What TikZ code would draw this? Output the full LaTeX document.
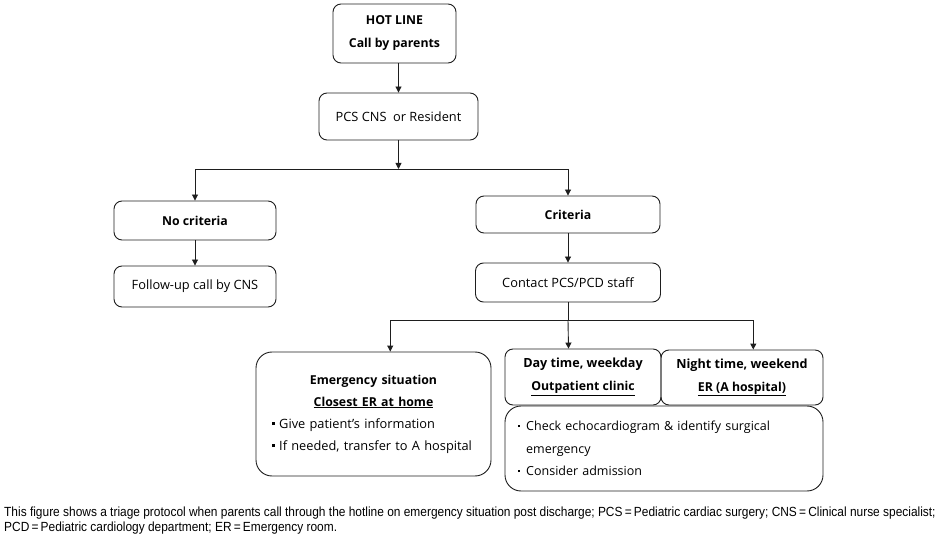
\documentclass[tikz,border=0pt]{standalone}
\usepackage{fontspec}
\setmainfont{Open Sans}
\newfontfamily\capfont[FakeStretch=0.9]{Liberation Sans}
\usetikzlibrary{arrows.meta}
\definecolor{ink}{HTML}{1E1E1E}
\newcommand{\sqbul}{\rule[3pt]{3.2pt}{3.2pt}\hspace{4pt}}
\newcommand{\dotbul}{\rule[3.5pt]{2.2pt}{2.2pt}\hspace{6pt}}

\begin{document}
\begin{tikzpicture}[x=1pt, y=-1pt, >={Triangle[length=6pt,width=6pt]},
    box/.style={draw=ink, line width=0.9pt, rounded corners=8pt, inner sep=0pt, align=center,
      font=\fontsize{12.8}{22}\selectfont},
    bigbox/.style={box, rounded corners=16pt},
    hdbox/.style={box, font=\bfseries\fontsize{12.3}{23}\selectfont},
    flow/.style={->, ink, line width=0.9pt}]
  \useasboundingbox (0,0) rectangle (943,540);
  % top of the tree
  \node[hdbox, minimum width=123pt, minimum height=59pt] (hot) at (394.5,33.5) {HOT LINE\\Call by parents};
  \node[box, minimum width=159pt, minimum height=47pt] (pcs) at (398.5,116.5) {PCS CNS\ \ or Resident};
  \coordinate (split1) at (398.5,169);
  \node[hdbox, minimum width=162pt, minimum height=39pt] (nocrit) at (195,220.5) {No criteria};
  \node[box, minimum width=162pt, minimum height=41pt] (follow) at (195,286.5) {Follow-up\ call\ by\ CNS};
  \node[hdbox, minimum width=184pt, minimum height=37pt] (crit) at (568,214.5) {Criteria};
  \node[box, minimum width=185pt, minimum height=39pt] (contact) at (568,282.5) {Contact PCS/PCD staff};
  \coordinate (split2) at (568,320);
  % bottom row
  \node[bigbox, minimum width=235pt, minimum height=124pt, text width=203pt, align=left] (emerg) at (373.5,414)
    {\makebox[203pt]{\bfseries\fontsize{12.3}{22}\selectfont Emergency situation}\\
     \makebox[203pt]{\bfseries\fontsize{12.3}{22}\selectfont\underline{Closest ER at home}}\\
     \sqbul Give\ patient's information\\
     \sqbul If needed,\ transfer to\ A hospital\\[3pt]};
  \node[hdbox, minimum width=156pt, minimum height=56pt, font=\bfseries\fontsize{12.6}{23}\selectfont] (day) at (583,377) {Day time, weekday\\{\fontsize{12.3}{23}\selectfont\underline{Outpatient clinic}}};
  \node[hdbox, minimum width=162pt, minimum height=55pt, font=\bfseries\fontsize{12.6}{23}\selectfont] (night) at (742,377.5) {Night time, weekend\\{\fontsize{12.3}{23}\selectfont\underline{ER (A hospital)}}};
  \node[bigbox, minimum width=318pt, minimum height=85pt, text width=292pt, align=left, font=\fontsize{12.5}{22.5}\selectfont] (checks) at (664,448.5)
    {\dotbul Check\ echocardiogram\ \&\ identify\ surgical\\
     \hspace*{8.2pt}emergency\\
     \dotbul Consider\ admission};
  % connectors
  \draw[flow] (pcs |- hot.south) -- (pcs);
  \draw[flow] (pcs) -- (split1);
  \draw[flow] (split1) -| (nocrit);
  \draw[flow] (split1) -| (crit);
  \draw[flow] (nocrit) -- (follow);
  \draw[flow] (crit) -- (contact);
  \draw[ink, line width=0.9pt] (contact) -- (split2);
  \draw[flow] (split2) -| (emerg.75);
  \draw[flow] (split2) -- (day.117);
  \draw[flow] (split2) -| (night.68);
  % caption
  \node[anchor=north west, inner sep=0pt, align=left, font=\capfont\fontsize{13.25}{15}\selectfont] (caption) at (4,507)
    {This figure shows a triage protocol when parents call through the hotline on emergency situation post discharge; PCS\,=\,Pediatric cardiac surgery; CNS\,=\,Clinical nurse specialist;\\
     PCD\,=\,Pediatric cardiology department; ER\,=\,Emergency room.};
\end{tikzpicture}
\end{document}
